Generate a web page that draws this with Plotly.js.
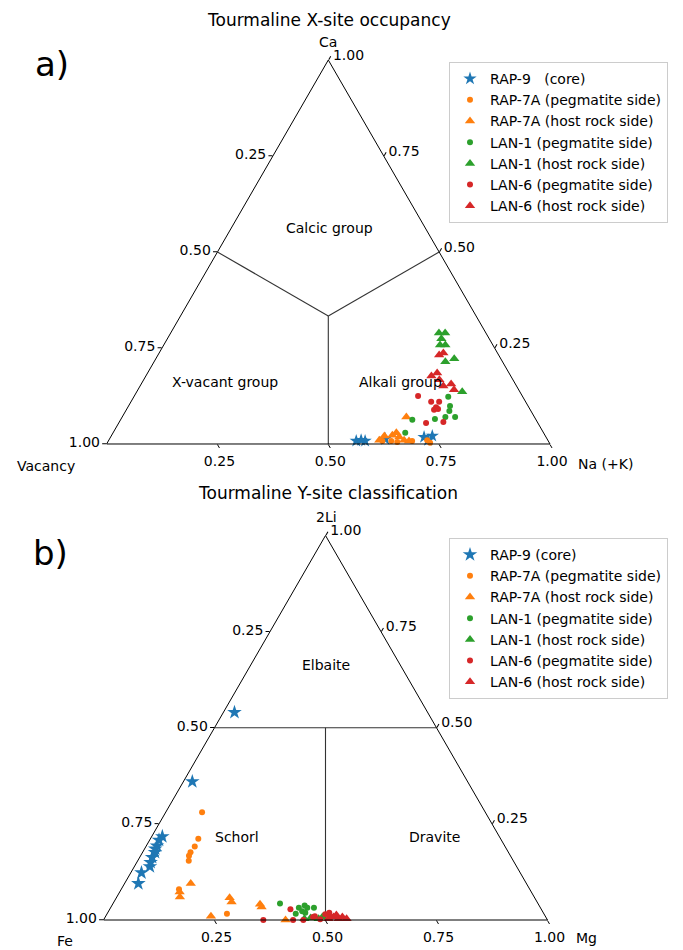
<!DOCTYPE html>
<html>
<head>
<meta charset="utf-8">
<script src="https://cdn.plot.ly/plotly-3.0.1.min.js"></script>
<style>html,body{margin:0;padding:0;background:#fff}#chart{width:683px;height:950px}</style>
</head>
<body>
<div id="chart"></div>
<script>
// ---------------- DATA ----------------
// Tick values (axis fraction) and printed labels (complementary component, as in the figure)
const tickVals = [0, 0.25, 0.5, 0.75];
const tickLabels = ["1.00", "0.75", "0.50", "0.25"];

const seriesNamesA = ["RAP-9\u00a0\u00a0\u00a0(core)", "RAP-7A (pegmatite side)", "RAP-7A (host rock side)",
  "LAN-1 (pegmatite side)", "LAN-1 (host rock side)", "LAN-6 (pegmatite side)", "LAN-6 (host rock side)"];
const seriesNamesB = ["RAP-9 (core)", "RAP-7A (pegmatite side)", "RAP-7A (host rock side)",
  "LAN-1 (pegmatite side)", "LAN-1 (host rock side)", "LAN-6 (pegmatite side)", "LAN-6 (host rock side)"];

// Panel a) X-site: Ca (top), Vacancy (left), Na(+K) (right)
const xRap9Ca  = [0.008, 0.010, 0.008, 0.013, 0.018, 0.021, 0.010];
const xRap9Vac = [0.433, 0.421, 0.413, 0.365, 0.275, 0.255, 0.270];
const xRap9Na  = [0.559, 0.569, 0.579, 0.622, 0.707, 0.724, 0.720];

const xRap7pCa  = [0.008, 0.008, 0.008, 0.010, 0.003, 0.005];
const xRap7pVac = [0.374, 0.354, 0.307, 0.272, 0.269, 0.342];
const xRap7pNa  = [0.618, 0.638, 0.685, 0.718, 0.728, 0.653];

const xRap7hCa  = [0.070, 0.029, 0.023, 0.021, 0.010, 0.018, 0.010, 0.008];
const xRap7hVac = [0.289, 0.332, 0.344, 0.363, 0.380, 0.331, 0.324, 0.314];
const xRap7hNa  = [0.641, 0.639, 0.633, 0.616, 0.610, 0.651, 0.666, 0.678];

const xLan1pCa  = [0.123, 0.099, 0.086, 0.070, 0.070, 0.065, 0.063, 0.029];
const xLan1pVac = [0.168, 0.176, 0.184, 0.201, 0.179, 0.227, 0.279, 0.312];
const xLan1pNa  = [0.709, 0.725, 0.730, 0.729, 0.751, 0.708, 0.658, 0.659];

const xLan1hCa  = [0.289, 0.289, 0.274, 0.258, 0.258, 0.214, 0.222, 0.136];
const xLan1hVac = [0.106, 0.092, 0.108, 0.119, 0.107, 0.129, 0.105, 0.130];
const xLan1hNa  = [0.605, 0.619, 0.618, 0.623, 0.635, 0.657, 0.673, 0.734];

const xLan6pCa  = [0.125, 0.110, 0.110, 0.096, 0.089, 0.091, 0.055, 0.057];
const xLan6pVac = [0.235, 0.213, 0.195, 0.209, 0.217, 0.207, 0.252, 0.212];
const xLan6pNa  = [0.640, 0.677, 0.695, 0.695, 0.694, 0.702, 0.693, 0.731];

const xLan6hCa  = [0.232, 0.237, 0.177, 0.185, 0.167, 0.156, 0.141, 0.151];
const xLan6hVac = [0.134, 0.122, 0.179, 0.162, 0.166, 0.145, 0.146, 0.165];
const xLan6hNa  = [0.634, 0.641, 0.644, 0.653, 0.667, 0.699, 0.713, 0.684];

// Panel b) Y-site: 2Li (top), Fe (left), Mg (right)
const yRap9Li = [0.540, 0.360, 0.217, 0.208, 0.193, 0.176, 0.163, 0.139, 0.123, 0.095, 0.185, 0.150];
const yRap9Fe = [0.435, 0.620, 0.759, 0.771, 0.783, 0.796, 0.809, 0.826, 0.853, 0.874, 0.791, 0.819];
const yRap9Mg = [0.025, 0.020, 0.024, 0.021, 0.024, 0.028, 0.028, 0.035, 0.024, 0.031, 0.024, 0.031];

const yRap7pLi = [0.280, 0.211, 0.191, 0.167, 0.176, 0.154, 0.080, 0.016];
const yRap7pFe = [0.638, 0.681, 0.699, 0.724, 0.716, 0.731, 0.790, 0.714];
const yRap7pMg = [0.082, 0.108, 0.110, 0.109, 0.108, 0.115, 0.130, 0.270];

const yRap7hLi = [0.095, 0.073, 0.060, 0.058, 0.047, 0.010, 0.041, 0.034, 0.000];
const yRap7hFe = [0.756, 0.792, 0.798, 0.687, 0.688, 0.753, 0.627, 0.627, 0.590];
const yRap7hMg = [0.149, 0.135, 0.142, 0.255, 0.265, 0.237, 0.332, 0.339, 0.410];

const yLan1pLi = [0.043, 0.032, 0.038, 0.032, 0.032, 0.019, 0.023, 0.016];
const yLan1pFe = [0.581, 0.544, 0.528, 0.525, 0.510, 0.536, 0.541, 0.559];
const yLan1pMg = [0.376, 0.424, 0.434, 0.443, 0.458, 0.445, 0.436, 0.425];

const yLan1hLi = [0.003, 0.005, 0.003, 0.008];
const yLan1hFe = [0.546, 0.531, 0.514, 0.503];
const yLan1hMg = [0.451, 0.464, 0.483, 0.489];

const yLan6pLi = [0.000, 0.028, 0.000, 0.000, 0.008, 0.010, 0.002, 0.015, 0.019, 0.008];
const yLan6pFe = [0.640, 0.565, 0.573, 0.550, 0.524, 0.519, 0.511, 0.493, 0.482, 0.483];
const yLan6pMg = [0.360, 0.407, 0.427, 0.450, 0.468, 0.471, 0.487, 0.492, 0.499, 0.509];

const yLan6hLi = [0.003, 0.008, 0.003, 0.008, 0.003, 0.013];
const yLan6hFe = [0.492, 0.478, 0.469, 0.458, 0.451, 0.469];
const yLan6hMg = [0.505, 0.514, 0.528, 0.534, 0.546, 0.518];

// Classification boundaries (component fractions)
const xBoundCa  = [[1/3, 0.5], [1/3, 0.5], [1/3, 0]];
const xBoundVac = [[1/3, 0.5], [1/3, 0],   [1/3, 0.5]];
const xBoundNa  = [[1/3, 0],   [1/3, 0.5], [1/3, 0.5]];

const yBoundLi = [[0.5, 0.5],  [0.5, 0]];
const yBoundFe = [[0.5, 0],    [0.25, 0.5]];
const yBoundMg = [[0, 0.5],    [0.25, 0.5]];

// ---------------- STYLE ----------------
const FONT = "DejaVu Sans, Liberation Sans, sans-serif";
const C_BLUE = "#1f77b4", C_ORANGE = "#ff7f0e", C_GREEN = "#2ca02c", C_RED = "#d62728";
const styles = [
  {color: C_BLUE, symbol: "star", size: 10},
  {color: C_ORANGE, symbol: "circle", size: 6},
  {color: C_ORANGE, symbol: "triangle-up", size: 9},
  {color: C_GREEN, symbol: "circle", size: 6},
  {color: C_GREEN, symbol: "triangle-up", size: 9},
  {color: C_RED, symbol: "circle", size: 6},
  {color: C_RED, symbol: "triangle-up", size: 9}
];

const W = 683, H = 950;
const px = x => x / W;
const py = y => 1 - y / H;

const traces = [];
function boundary(A, B, Cc, sub) {
  for (let i = 0; i < A.length; i++) {
    traces.push({type: "scatterternary", subplot: sub, mode: "lines",
      a: A[i], b: B[i], c: Cc[i], showlegend: false, hoverinfo: "skip",
      line: {color: "#333", width: 1.1}});
  }
}
boundary(xBoundCa, xBoundVac, xBoundNa, "ternary");
boundary(yBoundLi, yBoundFe, yBoundMg, "ternary2");

const setA = [[xRap9Ca, xRap9Vac, xRap9Na], [xRap7pCa, xRap7pVac, xRap7pNa], [xRap7hCa, xRap7hVac, xRap7hNa],
  [xLan1pCa, xLan1pVac, xLan1pNa], [xLan1hCa, xLan1hVac, xLan1hNa], [xLan6pCa, xLan6pVac, xLan6pNa], [xLan6hCa, xLan6hVac, xLan6hNa]];
const setB = [[yRap9Li, yRap9Fe, yRap9Mg], [yRap7pLi, yRap7pFe, yRap7pMg], [yRap7hLi, yRap7hFe, yRap7hMg],
  [yLan1pLi, yLan1pFe, yLan1pMg], [yLan1hLi, yLan1hFe, yLan1hMg], [yLan6pLi, yLan6pFe, yLan6pMg], [yLan6hLi, yLan6hFe, yLan6hMg]];

setA.forEach((s, i) => traces.push({type: "scatterternary", subplot: "ternary", legend: "legend",
  mode: "markers", name: seriesNamesA[i], a: s[0], b: s[1], c: s[2], cliponaxis: false,
  marker: {color: styles[i].color, symbol: styles[i].symbol, size: styles[i].size, line: {width: 0}}}));
setB.forEach((s, i) => traces.push({type: "scatterternary", subplot: "ternary2", legend: "legend2",
  mode: "markers", name: seriesNamesB[i], a: s[0], b: s[1], c: s[2], cliponaxis: false,
  marker: {color: styles[i].color, symbol: styles[i].symbol, size: styles[i].size + (i === 0 ? 1 : 0), line: {width: 0}}}));

function axis() {
  return {min: 0, linecolor: "#000", linewidth: 1, showgrid: false,
    ticks: "outside", ticklen: 4, tickwidth: 1, tickcolor: "#000",
    tickmode: "array", tickvals: tickVals, ticktext: tickLabels,
    tickfont: {family: FONT, size: 14, color: "#000"}, title: {text: ""}};
}
function tern(x0, x1, y0, y1) {
  return {sum: 1, bgcolor: "#fff", domain: {x: [px(x0), px(x1)], y: [py(y1), py(y0)]},
    aaxis: axis(), baxis: axis(), caxis: axis()};
}

function ann(text, x, y, size) {
  return {text: text, x: px(x), y: py(y), xref: "paper", yref: "paper", showarrow: false,
    xanchor: "center", yanchor: "middle", font: {family: FONT, size: size || 14, color: "#000"}};
}

const legendStyle = (x, y) => ({x: px(x), y: py(y), xanchor: "left", yanchor: "top",
  bgcolor: "#fff", bordercolor: "#cccccc", borderwidth: 1,
  font: {family: FONT, size: 14, color: "#000"}, tracegroupgap: 0});

const layout = {
  width: W, height: H, margin: {l: 0, r: 0, t: 0, b: 0},
  paper_bgcolor: "#fff", plot_bgcolor: "#fff", showlegend: true,
  font: {family: FONT, size: 14, color: "#000"},
  ternary: tern(106.6, 550, 60, 444),
  ternary2: tern(103, 548, 535.5, 920),
  legend: legendStyle(449, 62),
  legend2: legendStyle(449, 538),
  annotations: [
    ann("Tourmaline X-site occupancy", 329, 20, 17),
    ann("Ca", 328, 42),
    ann("Vacancy", 46, 466),
    ann("Na (+K)", 605, 464),
    ann("a)", 52, 64, 34),
    ann("Calcic group", 329, 228),
    ann("X-vacant group", 225, 382),
    ann("Alkali group", 400, 382),
    ann("Tourmaline Y-site classification", 328, 493, 17),
    ann("2Li", 326, 517),
    ann("Fe", 65, 941),
    ann("Mg", 586, 938),
    ann("b)", 50, 553, 34),
    ann("Elbaite", 326, 665),
    ann("Schorl", 237, 837),
    ann("Dravite", 434, 837)
  ]
};

Plotly.newPlot("chart", traces, layout, {displayModeBar: false, staticPlot: true});
</script>
</body>
</html>
